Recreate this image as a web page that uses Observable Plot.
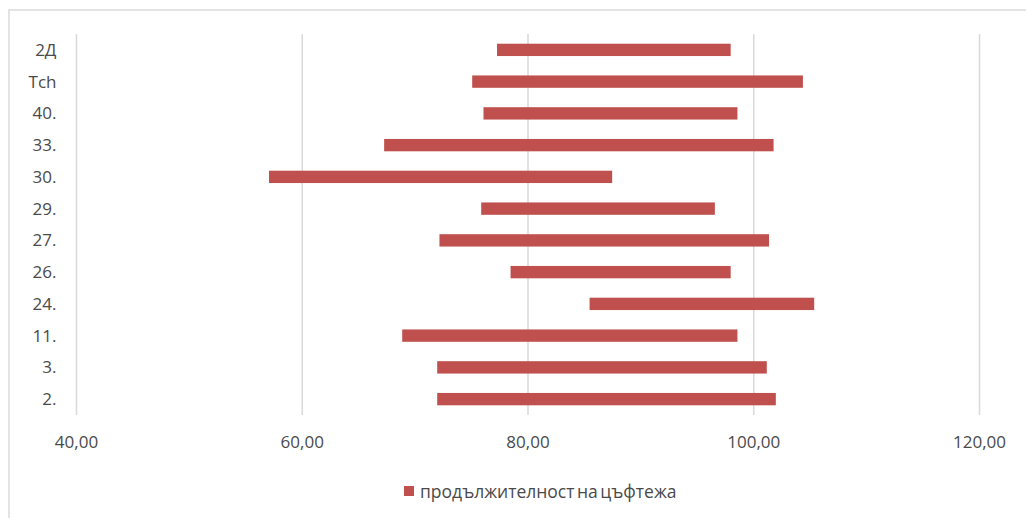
<!DOCTYPE html>
<html>
<head>
<meta charset="utf-8">
<script src="https://cdn.jsdelivr.net/npm/d3@7"></script>
<script src="https://cdn.jsdelivr.net/npm/@observablehq/plot@0.6"></script>
<style>
  html, body { margin: 0; padding: 0; background: #fff; }
  #wrap { position: relative; width: 1026px; height: 518px; overflow: hidden; font-family: "Open Sans", sans-serif; }
  #frame { position: absolute; left: 8px; top: 9px; width: 1040px; height: 540px; border-top: 2px solid #e3e3e3; border-left: 2px solid #e3e3e3; box-sizing: border-box; }
  #chart { position: absolute; left: 0; top: 0; }
  #legend { position: absolute; left: 404px; top: 479px; display: flex; align-items: center; color: #4a4a4a; font-size: 17.5px; word-spacing: -2px; }
  #legend .sw { width: 10px; height: 10px; background: #C0504D; margin-right: 6px; }
</style>
</head>
<body>
<div id="wrap">
  <div id="frame"></div>
  <div id="chart"></div>
  <div id="legend"><span class="sw"></span><span id="legtext"></span></div>
</div>
<script>
const categories = ["2Д", "Tch", "40.", "33.", "30.", "29.", "27.", "26.", "24.", "11.", "3.", "2."];
const startValues = [77.3, 75.1, 76.1, 67.3, 57.1, 75.9, 72.2, 78.5, 85.5, 68.9, 72.0, 72.0];
const endValues = [98.0, 104.4, 98.6, 101.8, 87.5, 96.6, 101.4, 98.0, 105.4, 98.6, 101.2, 102.0];
const xTicks = [40, 60, 80, 100, 120];
const seriesName = "продължителност на цъфтежа";

const data = categories.map((c, i) => ({cat: c, start: startValues[i], end: endValues[i]}));

const chart = Plot.plot({
  width: 1026,
  height: 460,
  marginLeft: 76,
  marginRight: 47,
  marginTop: 34,
  marginBottom: 45,
  style: {fontFamily: "'Open Sans', sans-serif", fontSize: "17px", color: "#4a4a4a", background: "transparent"},
  x: {domain: [40, 120], ticks: xTicks, tickSize: 0, tickPadding: 20, tickFormat: d => d.toFixed(2).replace(".", ","), label: null},
  y: {domain: categories, padding: 0, round: false, tickSize: 0, tickPadding: 20, label: null},
  marks: [
    Plot.gridX(xTicks, {stroke: "#d9d9d9", strokeOpacity: 1, strokeWidth: 1.5}),
    Plot.barX(data, {y: "cat", x1: "start", x2: "end", fill: "#C0504D", insetTop: 9.7, insetBottom: 9.7})
  ]
});
document.getElementById("chart").appendChild(chart);
document.getElementById("legtext").textContent = seriesName;
</script>
</body>
</html>
